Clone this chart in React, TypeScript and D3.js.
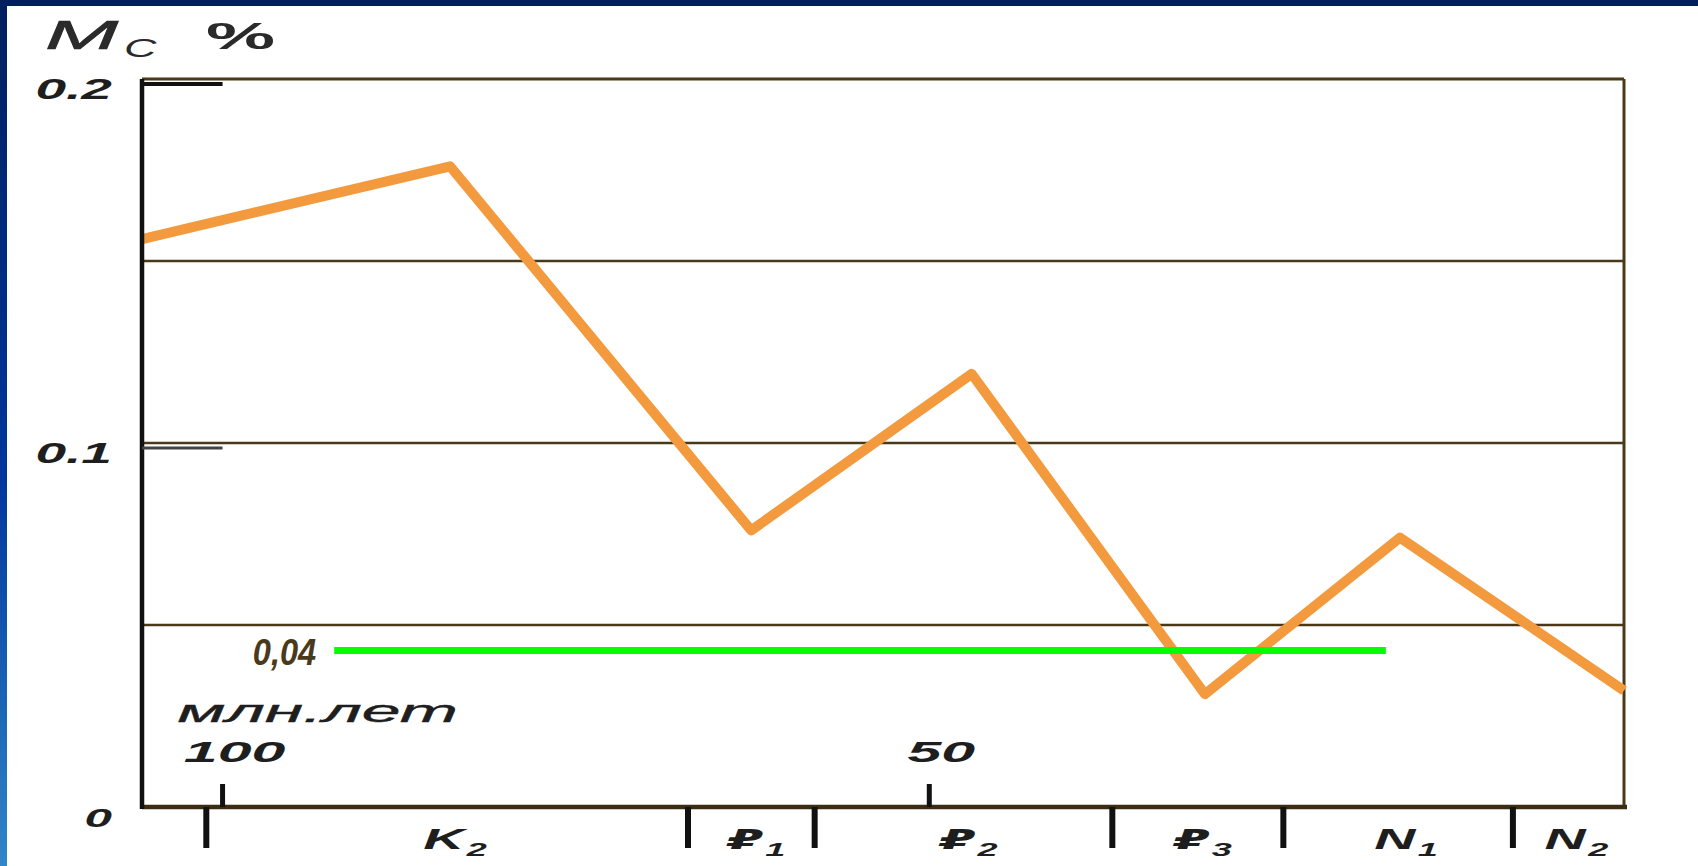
import * as d3 from "d3"

// Mc content (%) through geological time, ages in Ma
const mcAges = [105.7, 83.9, 62.6, 47.0, 30.5, 16.7, 0.85]
const mcValues = [0.156, 0.176, 0.076, 0.119, 0.031, 0.074, 0.032]

const ageDomain = [105.7, 0.85]
const ageTicks = [100, 50]
const yTicks = [0.2, 0.1, 0]
const yMarks = [0.2, 0.1]
const gridLevels = [0.15, 0.1, 0.05]

// period boundaries (Ma) and their labels
const boundaries = [101.15, 67.07, 58.11, 37.05, 24.95, 8.71]
const periodSymbols = ["K", "₽", "₽", "₽", "N", "N"]
const periodIndexes = ["2", "1", "2", "3", "1", "2"]

const referenceLevel = 0.043
const referenceSpan = [92.1, 17.7]
const referenceLabel = "0,04"

const W = 1698
const H = 866
const margin = { top: 79, right: 74, bottom: 59, left: 142 }
const stretch = 1.9
const ink = "#1e1e1e"
const brown = "#4a3819"

export default function App() {
  const x = d3.scaleLinear().domain(ageDomain).range([margin.left, W - margin.right])
  const y = d3.scaleLinear().domain([0, 0.2]).range([H - margin.bottom, margin.top])
  const x0 = x.range()[0]
  const x1 = x.range()[1]
  const yb = y(0)
  const yt = y(0.2)

  const line = d3
    .line<number>()
    .x((_, i) => x(mcAges[i]))
    .y((d) => y(d))

  // period label positions: midpoints between boundaries (last one closes at the domain end)
  const edges = [...boundaries, ageDomain[1]]
  const periodMid = periodSymbols.map((_, i) => (edges[i] + edges[i + 1]) / 2)

  const font = "'Liberation Sans', Arial, sans-serif"

  return (
    <svg width={W} height={H} style={{ position: "fixed", left: 0, top: 0 }}>
      <defs>
        <linearGradient id="side" x1="0" y1="0" x2="0" y2="1">
          <stop offset="0" stopColor="#001f5e" />
          <stop offset="0.55" stopColor="#00369c" />
          <stop offset="1" stopColor="#2f86c8" />
        </linearGradient>
      </defs>
      <rect width={W} height={H} fill="#ffffff" />
      <rect width={W} height={6} fill="#001f5e" />
      <rect width={7} height={H} fill="url(#side)" />

      {/* title */}
      <g fill="#2a2a2a" fontFamily={font} fontStyle="italic">
        <g transform={`translate(45,49) scale(2.2,1)`}>
          <text fontSize={40} stroke="#2a2a2a" strokeWidth={0.6}>M</text>
        </g>
        <g transform={`translate(124,57) scale(1.8,1)`}>
          <text fontSize={25}>C</text>
        </g>
        <g transform={`translate(206,49) scale(2.1,1)`}>
          <text fontSize={37} fontStyle="normal" fontWeight="bold">%</text>
        </g>
      </g>

      {/* grid */}
      {gridLevels.map((v) => (
        <line key={v} x1={x0} x2={x1} y1={y(v)} y2={y(v)} stroke={brown} strokeWidth={2.5} />
      ))}
      <line x1={x0} x2={x1} y1={yt} y2={yt} stroke={brown} strokeWidth={3} />
      <line x1={x1} x2={x1} y1={yt} y2={yb} stroke={brown} strokeWidth={3} />

      {/* Mc curve */}
      <path
        d={line(mcValues) ?? ""}
        fill="none"
        stroke="#f29a3d"
        strokeWidth={10}
        strokeLinejoin="round"
      />

      {/* reference level */}
      <line
        x1={x(referenceSpan[0])}
        x2={x(referenceSpan[1])}
        y1={y(referenceLevel)}
        y2={y(referenceLevel)}
        stroke="#00ff00"
        strokeWidth={7}
      />
      <g transform={`translate(${x(referenceSpan[0]) - 18},${y(referenceLevel) + 15}) scale(0.88,1)`}>
        <text
          textAnchor="end"
          fontFamily={font}
          fontStyle="italic"
          fontWeight="bold"
          fontSize={37}
          fill="#4a3a1c"
        >
          {referenceLabel}
        </text>
      </g>

      {/* axes */}
      <line x1={x0} x2={x1 + 3} y1={yb} y2={yb} stroke="#3b2c12" strokeWidth={4.5} />
      <line x1={x0} x2={x0} y1={yt} y2={yb + 2} stroke="#111" strokeWidth={4.5} />

      {yMarks.map((v, i) => (
        <line
          key={v}
          x1={x0}
          x2={x(ageTicks[0])}
          y1={y(v) + 5}
          y2={y(v) + 5}
          stroke={i === 0 ? "#111" : "#444"}
          strokeWidth={i === 0 ? 4 : 3}
        />
      ))}

      {yTicks.map((v) => (
        <g key={v} transform={`translate(${x0 - 30},${y(v) + 20}) scale(${stretch},1)`}>
          <text
            textAnchor="end"
            fontFamily={font}
            fontStyle="italic"
            fontWeight="bold"
            fontSize={v === 0 ? 26 : 29}
            fill={ink}
          >
            {v === 0 ? "0" : v.toFixed(1)}
          </text>
        </g>
      ))}

      {/* age ticks */}
      {ageTicks.map((a) => (
        <g key={a}>
          <line x1={x(a)} x2={x(a)} y1={yb - 23} y2={yb} stroke="#111" strokeWidth={5} />
          <g transform={`translate(${x(a) + 12},${yb - 45}) scale(2.1,1)`}>
            <text textAnchor="middle" fontFamily={font} fontStyle="italic" fontWeight="bold" fontSize={29} fill={ink}>
              {a}
            </text>
          </g>
        </g>
      ))}
      <g transform={`translate(${x(ageTicks[0]) - 45},${yb - 85}) scale(2.25,1)`}>
        <text fontFamily={font} fontStyle="italic" fontSize={31} fill={ink} stroke={ink} strokeWidth={0.4}>
          млн.лет
        </text>
      </g>

      {/* period boundaries */}
      {boundaries.map((b) => (
        <line key={b} x1={x(b)} x2={x(b)} y1={yb} y2={yb + 41} stroke="#111" strokeWidth={6} />
      ))}
      {periodSymbols.map((s, i) => (
        <g key={i} transform={`translate(${x(periodMid[i]) - 24},${yb + 42}) scale(1.9,1)`}>
          <text
            fontFamily={s === "₽" ? "'DejaVu Sans', sans-serif" : font}
            fontStyle="italic"
            fontWeight="bold"
            fontSize={s === "₽" ? 27 : 30}
            fill={ink}
          >
            {s}
          </text>
          <text
            x={s === "₽" ? 20 : 23}
            y={7}
            fontFamily={font}
            fontStyle="italic"
            fontWeight="bold"
            fontSize={19}
            fill={ink}
          >
            {periodIndexes[i]}
          </text>
        </g>
      ))}
    </svg>
  )
}
